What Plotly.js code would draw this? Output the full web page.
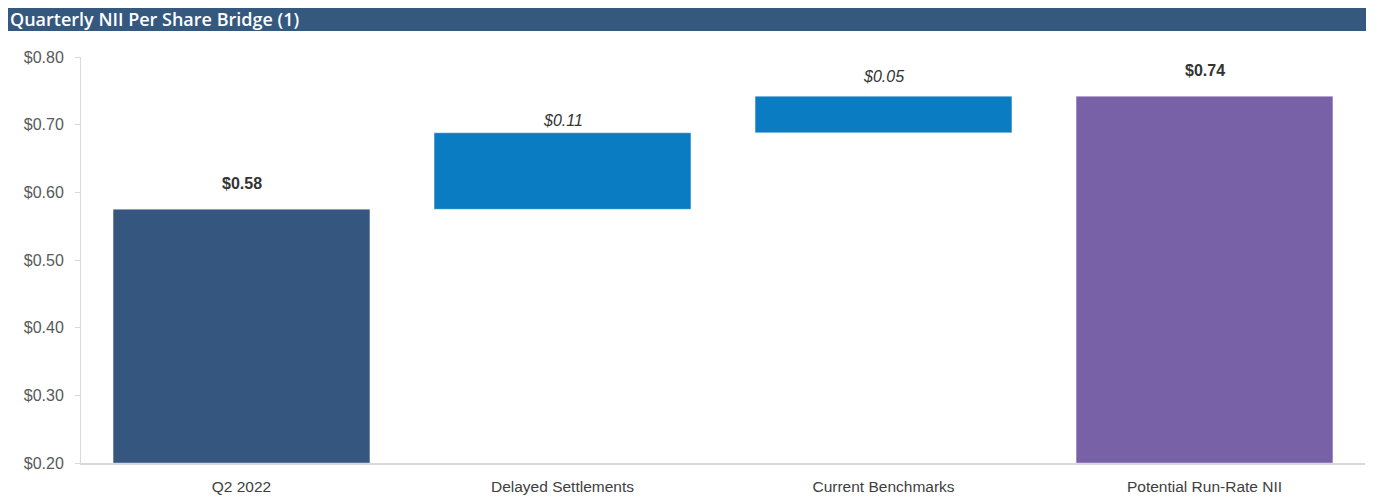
<!DOCTYPE html>
<html>
<head>
<meta charset="utf-8">
<script src="https://cdn.plot.ly/plotly-3.0.1.min.js"></script>
<style>html,body{margin:0;padding:0;background:#fff;}#chart{width:1377px;height:502px;}</style>
</head>
<body>
<div id="chart"></div>
<script>
// Data
const categories = ["Q2 2022", "Delayed Settlements", "Current Benchmarks", "Potential Run-Rate NII"];
const barBases   = [0.20, 0.575, 0.688, 0.20];
const barTops    = [0.575, 0.688, 0.742, 0.742];
const labelTexts = ["<b>$0.58</b>", "<i>$0.11</i>", "<i>$0.05</i>", "<b>$0.74</b>"];
const barColors  = ["#34567f", "#0a7cc1", "#0a7cc1", "#7861a6"];
const yTickVals  = [0.20, 0.30, 0.40, 0.50, 0.60, 0.70, 0.80];
const yTickText  = ["$0.20", "$0.30", "$0.40", "$0.50", "$0.60", "$0.70", "$0.80"];
const chartTitle = "Quarterly NII Per Share Bridge (1)";

// label offsets (style only, pixels above bar top)
const labelShift = [15, 2, 9, 15];

const trace = {
  type: "bar",
  x: categories,
  y: barTops.map((t, i) => t - barBases[i]),
  base: barBases,
  width: 0.8,
  marker: { color: barColors, line: { color: "rgba(255,255,255,0.35)", width: 1 } },
  hoverinfo: "skip",
  showlegend: false
};

const annotations = categories.map((c, i) => ({
  x: c, y: barTops[i], xref: "x", yref: "y",
  text: labelTexts[i], showarrow: false,
  yanchor: "bottom", yshift: labelShift[i],
  font: { family: "Liberation Sans, Arial, sans-serif", size: 16, color: "#333333" }
}));

const layout = {
  width: 1377, height: 502,
  margin: { l: 81, r: 12, t: 57, b: 39, pad: 0 },
  paper_bgcolor: "#ffffff", plot_bgcolor: "#ffffff",
  title: {
    text: chartTitle,
    x: 10 / 1377, xanchor: "left", xref: "container",
    y: 1 - 20 / 502, yanchor: "middle", yref: "container",
    pad: { l: 0, r: 0, t: 0, b: 0 },
    font: { family: "Open Sans, sans-serif", size: 18, color: "#ffffff", weight: 600 }
  },
  shapes: [{
    type: "rect", xref: "paper", yref: "paper",
    x0: (8 - 81) / 1284, x1: (1366 - 81) / 1284,
    y0: (463 - 31) / 406, y1: (463 - 8) / 406,
    fillcolor: "#34587e", line: { width: 0 }, layer: "below"
  }],
  xaxis: {
    type: "category",
    showgrid: false, zeroline: false,
    showline: true, linecolor: "#d9d9d9", linewidth: 1.5,
    ticks: "", ticklabelstandoff: 9,
    tickfont: { family: "Liberation Sans, Arial, sans-serif", size: 15.5, color: "#404040" }
  },
  yaxis: {
    range: [0.20, 0.80],
    tickvals: yTickVals, ticktext: yTickText,
    showgrid: false, zeroline: false,
    showline: true, linecolor: "#d9d9d9", linewidth: 1,
    ticks: "outside", ticklen: 5, tickcolor: "#d9d9d9",
    ticklabelstandoff: 8,
    tickfont: { family: "Liberation Sans, Arial, sans-serif", size: 16, color: "#595959" }
  },
  annotations: annotations,
  bargap: 0.2
};

Plotly.newPlot("chart", [trace], layout, { displayModeBar: false, staticPlot: true });
</script>
</body>
</html>
